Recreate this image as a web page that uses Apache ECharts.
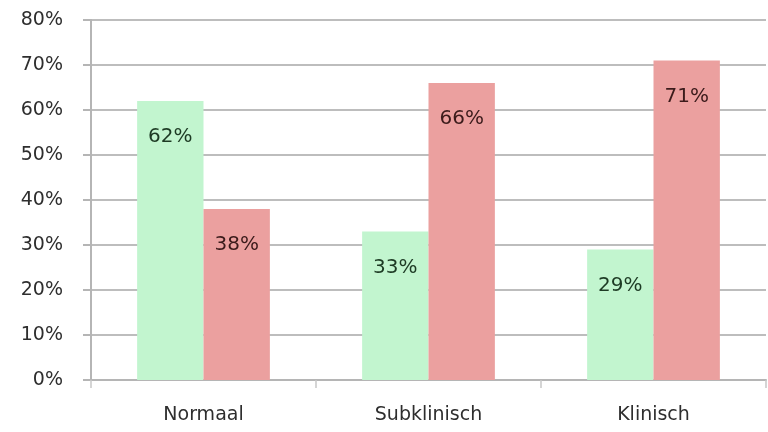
<!DOCTYPE html>
<html>
<head>
<meta charset="utf-8">
<script src="https://cdn.jsdelivr.net/npm/echarts@6/dist/echarts.min.js"></script>
<style>
  html, body { margin: 0; padding: 0; background: #fff; }
  #chart { width: 768px; height: 432px; }
</style>
</head>
<body>
<div id="chart"></div>
<script>
const categories = ['Normaal', 'Subklinisch', 'Klinisch']
const greenValues = [62, 33, 29]
const redValues = [38, 66, 71]

const FONT = '"DejaVu Sans", sans-serif'

const chart = echarts.init(document.getElementById('chart'))

function barLabel(color) {
  return {
    show: true,
    position: 'insideTop',
    distance: 26,
    formatter: '{c}%',
    color: color,
    fontFamily: FONT,
    fontSize: 20
  }
}

chart.setOption({
  animation: false,
  backgroundColor: '#fff',
  grid: { left: 91, right: 2, top: 20, bottom: 52 },
  xAxis: {
    type: 'category',
    data: categories,
    axisLine: { lineStyle: { color: '#b5b5b5', width: 2 } },
    axisTick: { show: true, length: 8, lineStyle: { color: '#c8c8c8', width: 1.5 } },
    axisLabel: { color: '#2e2e2e', fontFamily: FONT, fontSize: 19, margin: 26 }
  },
  yAxis: {
    type: 'value',
    min: 0,
    max: 80,
    interval: 10,
    axisLine: { show: true, lineStyle: { color: '#b5b5b5', width: 2 } },
    axisTick: { show: true, length: 8, lineStyle: { color: '#b5b5b5', width: 2 } },
    axisLabel: { color: '#2e2e2e', fontFamily: FONT, fontSize: 19, margin: 28, formatter: '{value}%' },
    splitLine: { lineStyle: { color: '#bdbdbd', width: 2 } }
  },
  series: [
    {
      type: 'bar',
      data: greenValues,
      barGap: '0%',
      barCategoryGap: '41%',
      itemStyle: { color: '#c2f5cf' },
      label: barLabel('#1d3a24')
    },
    {
      type: 'bar',
      data: redValues,
      itemStyle: { color: '#eba09f' },
      label: barLabel('#3b1b1b')
    }
  ]
})
</script>
</body>
</html>
